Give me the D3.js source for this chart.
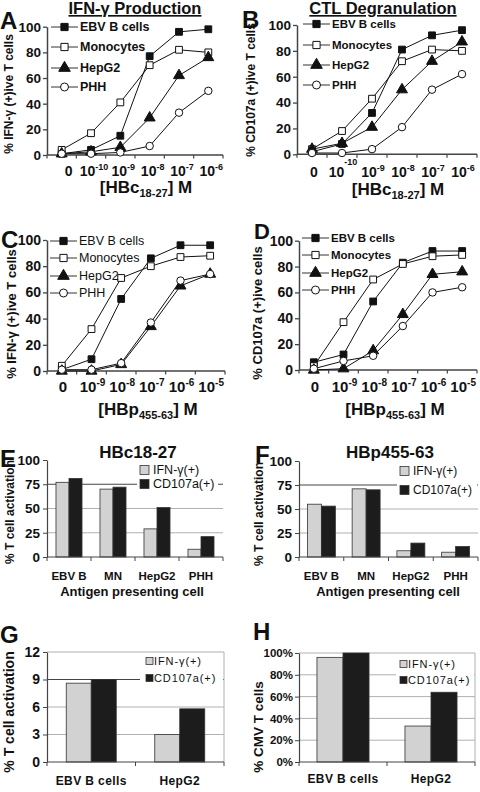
<!DOCTYPE html>
<html><head><meta charset="utf-8">
<script src="https://cdn.jsdelivr.net/npm/d3@7"></script>
<style>body{margin:0;background:#fff} svg{display:block} text{font-family:"Liberation Sans",Arial,sans-serif;fill:#111}</style>
</head><body><svg id="c" width="480" height="792"></svg>
<script>
// ---------- data ----------
const seriesNames = ["EBV B cells","Monocytes","HepG2","PHH"];
const expAB = ["0","-10","-9","-8","-7","-6"];
const expCD = ["0","-9","-8","-7","-6","-5"];
const yTicksLine = [0,20,40,60,80,100];

const A_ebv  = [1, 4, 15, 77, 96, 98];
const A_mono = [4, 17, 41, 70, 82, 80];
const A_hep  = [1, 2.5, 6, 29, 62, 76];
const A_phh  = [1, 1, 2, 7, 33, 50];

const B_ebv  = [2, 8, 32, 81, 92, 96];
const B_mono = [4, 18, 43, 72, 81, 80];
const B_hep  = [4, 8.5, 21, 50, 72, 87];
const B_phh  = [1, 1, 4, 21, 50, 62];

const C_ebv  = [1, 9, 55, 86, 96, 96];
const C_mono = [4, 32, 71, 80, 87, 88];
const C_hep  = [0, 0, 5, 34, 65, 74];
const C_phh  = [1, 1, 6, 37, 69, 74];

const D_ebv  = [6, 12, 53, 83, 92, 92];
const D_mono = [3, 37, 70, 82, 88, 89];
const D_hep  = [0, 1, 15, 43, 74, 76];
const D_phh  = [1, 7, 11, 34, 60, 64];

const barSeries = ["IFN-γ(+)","CD107a(+)"];
const catsEF = ["EBV B","MN","HepG2","PHH"];
const E_ifn = [77, 70, 29, 8];
const E_cd  = [81, 72, 51, 21];
const F_ifn = [55, 71, 6.5, 5];
const F_cd  = [53, 70, 14.5, 11];
const yTicksEF = [0,25,50,75,100];

const catsGH = ["EBV B cells","HepG2"];
const G_ifn = [8.6, 3.0];
const G_cd  = [9.0, 5.8];
const yTicksG = [0,3,6,9,12];
const H_ifn = [0.96, 0.33];
const H_cd  = [1.0, 0.64];
const yTicksH = [0,0.2,0.4,0.6,0.8,1.0];

// ---------- drawing ----------
const svg = d3.select("#c");
const markerStyles = [
  {type:d3.symbolSquare, size:46, fill:"#111"},
  {type:d3.symbolSquare, size:46, fill:"#fff"},
  {type:d3.symbolTriangle, size:52, fill:"#111"},
  {type:d3.symbolCircle, size:44, fill:"#fff"}
];

function txt(x,y,s,size,weight,anchor){
  return svg.append("text").attr("x",x).attr("y",y).attr("font-size",size)
    .attr("font-weight",weight||"bold").attr("text-anchor",anchor||"start").text(s);
}
function ylabel(s,x,y,size){
  svg.append("text").attr("transform",`translate(${x},${y}) rotate(-90)`)
    .attr("text-anchor","middle").attr("dominant-baseline","central")
    .attr("font-size",size).attr("font-weight","bold").text(s);
}
function subTitle(pre,sub,post,cx,y,size,subSize){
  const t = svg.append("text").attr("x",cx).attr("y",y).attr("text-anchor","middle")
    .attr("font-size",size).attr("font-weight","bold");
  t.append("tspan").text(pre);
  t.append("tspan").attr("dy",4).attr("font-size",subSize).text(sub);
  t.append("tspan").attr("dy",-4).text(post);
}

function linePanel(o){
  const g = svg.append("g");
  const n = o.exps.length;
  const x = d3.scaleBand().domain(d3.range(n)).range([o.x0,o.x1]);
  const cx = i => x(i) + x.bandwidth()/2;
  const y = d3.scaleLinear().domain([0,100]).range([o.yb,o.yt]);
  const ax = g.append("g").attr("transform",`translate(${o.x0},0)`)
    .call(d3.axisLeft(y).tickValues(yTicksLine).tickSize(4).tickPadding(2).tickSizeOuter(0));
  ax.select(".domain").attr("stroke","#444").attr("stroke-width",1.5);
  ax.selectAll(".tick line").attr("stroke","#444").attr("stroke-width",1.3);
  ax.selectAll(".tick text").attr("font-size",o.tickSize).attr("font-weight","bold")
    .attr("font-family","Liberation Sans, Arial, sans-serif").attr("fill","#111");
  g.append("line").attr("x1",o.x0).attr("x2",o.x1).attr("y1",o.yb).attr("y2",o.yb)
    .attr("stroke","#444").attr("stroke-width",1.5);
  g.selectAll(".bt").data(d3.range(n+1)).join("line")
    .attr("x1",i=> i<n? x(i): o.x1).attr("x2",i=> i<n? x(i): o.x1)
    .attr("y1",o.yb).attr("y2",o.yb+3.5).attr("stroke","#444").attr("stroke-width",1.2);
  o.exps.forEach((e,i)=>{
    const t = g.append("text").attr("x",cx(i)+o.lblDx+(e==="0"?o.zeroDx:0)).attr("y",o.lblY)
      .attr("text-anchor","middle").attr("font-size",o.lblSize).attr("font-weight","bold");
    if(e==="0") t.text("0");
    else {
      const r = (o.raiseIdx===i)? o.bigRaise : o.supRaise;
      t.append("tspan").text("10");
      t.append("tspan").attr("dy",-r).attr("font-size",o.supSize).text(e);
    }
  });
  o.data.forEach((s,k)=>{
    g.append("path").datum(s).attr("fill","none").attr("stroke","#111").attr("stroke-width",1)
      .attr("d", d3.line().x((d,i)=>cx(i)).y(d=>y(d)));
  });
  o.data.forEach((s,k)=>{
    const m = markerStyles[k];
    g.selectAll(null).data(s).join("path")
      .attr("transform",(d,i)=>`translate(${cx(i)},${y(d)})`)
      .attr("d", d3.symbol().type(m.type).size(m.size)())
      .attr("fill",m.fill).attr("stroke","#111").attr("stroke-width",1);
  });
  // legend
  seriesNames.forEach((nm,k)=>{
    const ly = o.leg.ys[k], lx = o.leg.x, m = markerStyles[k];
    g.append("line").attr("x1",lx).attr("x2",lx+27).attr("y1",ly).attr("y2",ly)
      .attr("stroke","#333").attr("stroke-width",1);
    g.append("path").attr("transform",`translate(${lx+13.5},${ly})`)
      .attr("d", d3.symbol().type(m.type).size(m.size+6)())
      .attr("fill",m.fill).attr("stroke","#111").attr("stroke-width",1);
    g.append("text").attr("x",lx+29).attr("y",ly).attr("dominant-baseline","central")
      .attr("font-size",o.leg.size).attr("font-weight",o.leg.weight).text(nm);
  });
}

function barPanel(o){
  const g = svg.append("g");
  const x0 = d3.scaleBand().domain(o.cats).range([o.x0,o.x1]);
  const x1 = d3.scaleBand().domain([0,1]).range([0,x0.bandwidth()]).paddingOuter(o.po);
  const y = d3.scaleLinear().domain([0,o.max]).range([o.yb,o.yt]);
  // gridlines
  o.ticks.filter(t=>t>0 && t<o.max).forEach(t=>{
    g.append("line").attr("x1",o.x0).attr("x2",o.x1).attr("y1",y(t)).attr("y2",y(t))
      .attr("stroke", t===o.dark? "#444":"#b0b0b0").attr("stroke-width", t===o.dark?1.2:1);
  });
  if(o.box){
    g.append("line").attr("x1",o.x0).attr("x2",o.x1).attr("y1",o.yt).attr("y2",o.yt).attr("stroke","#b0b0b0");
    g.append("line").attr("x1",o.x1).attr("x2",o.x1).attr("y1",o.yt).attr("y2",o.yb).attr("stroke","#b0b0b0");
  }
  // legend
  const L = o.leg;
  g.append("rect").attr("x",L.bx).attr("y",L.by).attr("width",L.bw).attr("height",L.bh).attr("fill","#fff");
  barSeries.forEach((nm,k)=>{
    g.append("rect").attr("x",L.x).attr("y",L.ys[k]-L.sw/2).attr("width",L.sw).attr("height",L.sw)
      .attr("fill", k===0? "#d2d2d2":"#1c1c1c").attr("stroke","#333").attr("stroke-width",0.8);
    g.append("text").attr("x",L.tx).attr("y",L.ys[k]).attr("dominant-baseline","central")
      .attr("font-size",L.size).attr("letter-spacing",L.ls||0).text(nm);
  });
  // bars
  [o.ifn,o.cd].forEach((vals,k)=>{
    g.selectAll(null).data(vals).join("rect")
      .attr("x",(d,i)=>x0(o.cats[i])+x1(k)).attr("width",x1.bandwidth())
      .attr("y",d=>y(d)).attr("height",d=>o.yb-y(d))
      .attr("fill", k===0? "#d2d2d2":"#1c1c1c").attr("stroke","#333").attr("stroke-width",0.8);
  });
  // y axis
  const ax = g.append("g").attr("transform",`translate(${o.x0},0)`)
    .call(d3.axisLeft(y).tickValues(o.ticks).tickSize(4).tickPadding(o.tickPad||3).tickSizeOuter(0).tickFormat(o.fmt||d3.format("d")));
  ax.select(".domain").attr("stroke","#444").attr("stroke-width",1.2);
  ax.selectAll(".tick line").attr("stroke","#444");
  ax.selectAll(".tick text").attr("font-size",o.tickSize).attr("font-weight","bold")
    .attr("font-family","Liberation Sans, Arial, sans-serif").attr("fill","#111");
  // x axis
  g.append("line").attr("x1",o.x0).attr("x2",o.x1).attr("y1",o.yb).attr("y2",o.yb).attr("stroke","#444").attr("stroke-width",1.2);
  const bounds = o.cats.map(c=>x0(c)).concat([o.x1]);
  g.selectAll(null).data(bounds).join("line").attr("x1",d=>d).attr("x2",d=>d)
    .attr("y1",o.yb).attr("y2",o.yb+4).attr("stroke","#444");
  o.cats.forEach(c=>{
    g.append("text").attr("x",x0(c)+x0.bandwidth()/2).attr("y",o.catY).attr("text-anchor","middle")
      .attr("font-size",o.catSize).attr("font-weight","bold").attr("letter-spacing",o.catLs||0).text(c);
  });
}

// ---------- panels A-D ----------
txt(135,14,"IFN-γ Production",16.5,"bold","middle").attr("text-decoration","underline");
txt(383,14,"CTL Degranulation",16.5,"bold","middle").attr("text-decoration","underline");

linePanel({x0:47,x1:223,yt:26.7,yb:155,exps:expAB,data:[A_ebv,A_mono,A_hep,A_phh],
  lblY:176,lblSize:14,supSize:9,supRaise:6,lblDx:3,zeroDx:4,tickSize:13.5,
  leg:{x:51,ys:[27,47,68,87],size:12.5,weight:"bold"}});
linePanel({x0:297,x1:477,yt:25,yb:154.3,exps:expAB,data:[B_ebv,B_mono,B_hep,B_phh],
  lblY:177,lblSize:14,supSize:9,supRaise:6,raiseIdx:1,bigRaise:12,lblDx:1,zeroDx:1,tickSize:13.5,
  leg:{x:303,ys:[24,45,65,85],size:11.5,weight:"bold"}});
linePanel({x0:47,x1:225,yt:240,yb:371,exps:expCD,data:[C_ebv,C_mono,C_hep,C_phh],
  lblY:392,lblSize:15,supSize:10,supRaise:6,lblDx:1,zeroDx:0,tickSize:14,
  leg:{x:50,ys:[241,258,276,293],size:12.5,weight:"normal"}});
linePanel({x0:299,x1:477,yt:240.7,yb:370,exps:expCD,data:[D_ebv,D_mono,D_hep,D_phh],
  lblY:392,lblSize:15,supSize:10,supRaise:6,lblDx:1,zeroDx:0,tickSize:14,
  leg:{x:302,ys:[238,255,273,290],size:11.5,weight:"bold"}});

subTitle("[HBc","18-27","] M",146,193,17,11);
subTitle("[HBc","18-27","] M",398,195,17,11);
subTitle("[HBp","455-63","] M",148,415,17,11);
subTitle("[HBp","455-63","] M",395,415,17,11);

ylabel("% IFN-γ (+)ive T cells",9,94,12);
ylabel("% CD107a (+)ive T cells",251,90,12);
ylabel("% IFN-γ (+)ive T cells",11,314,13);
ylabel("% CD107a (+)ive cells",257,313,13);

// ---------- panels E-H ----------
txt(138,458,"HBc18-27",17,"bold","middle");
txt(390,458,"HBp455-63",17,"bold","middle");

barPanel({x0:47,x1:223,yt:460,yb:557,max:100,ticks:yTicksEF,cats:catsEF,ifn:E_ifn,cd:E_cd,po:0.69,
  dark:75,tickSize:13.5,catY:580,catSize:11.5,
  leg:{x:140,sw:9,tx:153,ys:[470,484],size:12.5,bx:137,by:462,bw:81,bh:30}});
barPanel({x0:299,x1:478,yt:461,yb:557,max:100,ticks:yTicksEF,cats:catsEF,ifn:F_ifn,cd:F_cd,po:0.6,
  dark:75,tickSize:13.5,catY:580,catSize:11.5,
  leg:{x:400,sw:9,tx:413,ys:[471,490],size:12,bx:397,by:463,bw:80,bh:36}});
txt(132,596,"Antigen presenting cell",13,"bold","middle");
txt(388,596,"Antigen presenting cell",13,"bold","middle");
ylabel("% T cell activation",10,512,12);
ylabel("% T cell activation",259,514,12);

barPanel({x0:47,x1:224,yt:652,yb:762,max:12,ticks:yTicksG,cats:catsGH,ifn:G_ifn,cd:G_cd,po:0.77,
  dark:9,box:true,tickSize:14,catY:785,catSize:12,catLs:0.4,
  leg:{x:146,sw:7,tx:154,ys:[661,678],size:11,ls:0.9,bx:140,by:654,bw:83,bh:34}});
barPanel({x0:299,x1:475,yt:653,yb:762,max:1,ticks:yTicksH,cats:catsGH,ifn:H_ifn,cd:H_cd,po:0.69,
  box:true,tickSize:11.5,tickPad:2,catY:783,catSize:12,catLs:0.4,fmt:d3.format(".0%"),
  leg:{x:400,sw:7,tx:408,ys:[664,680],size:11,ls:0.9,bx:396,by:655,bw:78,bh:33}});
ylabel("% T cell activation",9,712,14);
ylabel("% CMV T cells",258,727,13.5);

// panel letters
[["A",0,29,24],["B",242,28,24],["C",1,248,24],["D",254,239,22],["E",0,467,24],["F",255,463,24],["G",0,643,24],["H",253,640,24]]
  .forEach(([l,x,y,s])=>txt(x,y,l,s,"bold","start"));
</script></body></html>
